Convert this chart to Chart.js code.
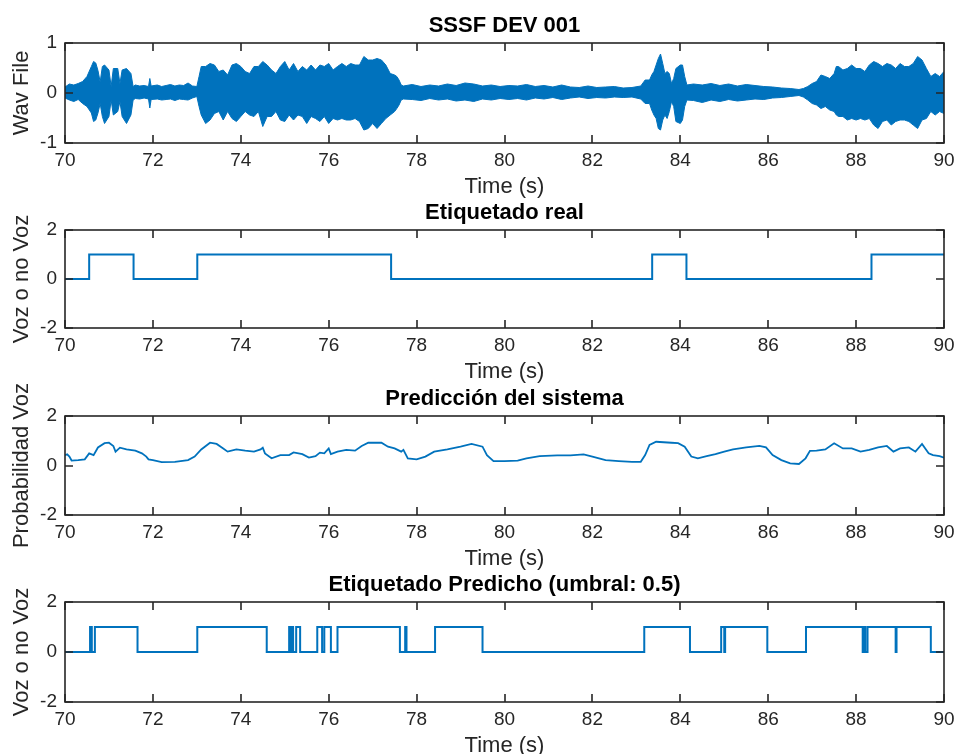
<!DOCTYPE html>
<html>
<head>
<meta charset="utf-8">
<title>SSSF DEV 001</title>
<script src="https://cdn.jsdelivr.net/npm/chart.js@4.4.1/dist/chart.umd.min.js"></script>
<style>
  html, body { margin: 0; padding: 0; background: #fff; overflow: hidden; }
  body { width: 957px; height: 754px; position: relative; }
  canvas { position: absolute; left: 0; }
</style>
</head>
<body>
<canvas id="wavChart" width="957" height="215" style="top:0px"></canvas>
<canvas id="realChart" width="957" height="215" style="top:187px"></canvas>
<canvas id="probChart" width="957" height="215" style="top:373px"></canvas>
<canvas id="predChart" width="957" height="215" style="top:559px"></canvas>
<script>
// Waveform envelope (upper / lower amplitude per time)
const wavT = [70.00, 70.10, 70.20, 70.30, 70.40, 70.50, 70.60, 70.65, 70.70, 70.75, 70.80, 70.85, 70.90, 71.00, 71.05, 71.10, 71.20, 71.25, 71.30, 71.40,
  71.50, 71.55, 71.60, 71.70, 71.80, 71.90, 71.93, 71.96, 72.10, 72.20, 72.30, 72.40, 72.50, 72.60, 72.70, 72.80, 72.90, 73.00, 73.05, 73.10,
  73.20, 73.30, 73.40, 73.50, 73.60, 73.70, 73.80, 73.90, 74.00, 74.10, 74.20, 74.30, 74.40, 74.50, 74.60, 74.70, 74.80, 74.90, 75.00, 75.10,
  75.20, 75.30, 75.40, 75.50, 75.60, 75.70, 75.80, 75.90, 76.00, 76.10, 76.20, 76.30, 76.40, 76.50, 76.60, 76.70, 76.80, 76.90, 77.00, 77.10,
  77.20, 77.30, 77.40, 77.50, 77.55, 77.60, 77.65, 77.70, 77.90, 78.10, 78.30, 78.50, 78.70, 78.90, 79.10, 79.30, 79.50, 79.70, 79.90, 80.10,
  80.30, 80.50, 80.70, 80.90, 81.10, 81.30, 81.50, 81.70, 81.90, 82.10, 82.30, 82.50, 82.70, 82.90, 83.10, 83.20, 83.30, 83.35, 83.40, 83.45,
  83.50, 83.55, 83.60, 83.65, 83.70, 83.75, 83.80, 83.85, 83.90, 84.00, 84.05, 84.10, 84.15, 84.30, 84.50, 84.70, 84.90, 85.10, 85.30, 85.50,
  85.70, 85.90, 86.10, 86.30, 86.50, 86.70, 86.80, 86.90, 87.00, 87.10, 87.20, 87.30, 87.40, 87.50, 87.55, 87.60, 87.70, 87.80, 87.90, 88.00,
  88.10, 88.20, 88.30, 88.40, 88.50, 88.60, 88.70, 88.80, 88.90, 89.00, 89.10, 89.20, 89.30, 89.40, 89.50, 89.60, 89.70, 89.80, 89.90, 90.00];
const wavHi = [0.12, 0.18, 0.16, 0.19, 0.23, 0.33, 0.53, 0.63, 0.60, 0.45, 0.22, 0.53, 0.56, 0.46, 0.13, 0.49, 0.49, 0.19, 0.46, 0.49,
  0.39, 0.13, 0.16, 0.14, 0.15, 0.13, 0.29, 0.14, 0.16, 0.13, 0.15, 0.17, 0.14, 0.16, 0.15, 0.20, 0.14, 0.13, 0.33, 0.53,
  0.53, 0.59, 0.56, 0.43, 0.46, 0.36, 0.56, 0.59, 0.53, 0.43, 0.39, 0.53, 0.53, 0.63, 0.56, 0.46, 0.39, 0.53, 0.63, 0.46,
  0.59, 0.43, 0.53, 0.46, 0.56, 0.46, 0.56, 0.53, 0.59, 0.46, 0.53, 0.59, 0.53, 0.59, 0.56, 0.56, 0.73, 0.66, 0.66, 0.69,
  0.66, 0.56, 0.39, 0.36, 0.33, 0.26, 0.16, 0.14, 0.17, 0.13, 0.16, 0.14, 0.18, 0.15, 0.20, 0.18, 0.14, 0.16, 0.13, 0.15,
  0.14, 0.17, 0.13, 0.15, 0.12, 0.16, 0.12, 0.11, 0.14, 0.11, 0.12, 0.13, 0.10, 0.11, 0.14, 0.26, 0.26, 0.36, 0.43, 0.56,
  0.69, 0.78, 0.59, 0.39, 0.43, 0.39, 0.19, 0.29, 0.49, 0.56, 0.56, 0.33, 0.16, 0.18, 0.16, 0.19, 0.15, 0.18, 0.14, 0.17,
  0.15, 0.13, 0.12, 0.10, 0.09, 0.07, 0.09, 0.13, 0.19, 0.23, 0.36, 0.33, 0.29, 0.39, 0.53, 0.53, 0.46, 0.49, 0.56, 0.49,
  0.49, 0.43, 0.56, 0.63, 0.59, 0.53, 0.59, 0.56, 0.49, 0.59, 0.53, 0.53, 0.59, 0.73, 0.66, 0.49, 0.33, 0.39, 0.33, 0.43];
const wavLo = [-0.10, -0.14, -0.17, -0.13, -0.21, -0.27, -0.40, -0.57, -0.54, -0.40, -0.21, -0.47, -0.61, -0.47, -0.14, -0.44, -0.37, -0.17, -0.47, -0.61,
  -0.44, -0.14, -0.11, -0.12, -0.10, -0.12, -0.30, -0.13, -0.12, -0.14, -0.13, -0.12, -0.15, -0.12, -0.13, -0.14, -0.10, -0.07, -0.27, -0.44,
  -0.61, -0.54, -0.41, -0.37, -0.54, -0.37, -0.51, -0.57, -0.47, -0.37, -0.44, -0.47, -0.37, -0.67, -0.47, -0.47, -0.37, -0.54, -0.57, -0.44,
  -0.54, -0.44, -0.47, -0.61, -0.47, -0.51, -0.57, -0.47, -0.61, -0.51, -0.54, -0.51, -0.54, -0.54, -0.51, -0.57, -0.74, -0.71, -0.61, -0.71,
  -0.61, -0.51, -0.44, -0.37, -0.31, -0.24, -0.14, -0.12, -0.13, -0.15, -0.11, -0.14, -0.12, -0.16, -0.14, -0.17, -0.12, -0.14, -0.11, -0.13,
  -0.11, -0.14, -0.10, -0.12, -0.09, -0.13, -0.10, -0.08, -0.11, -0.09, -0.10, -0.08, -0.09, -0.08, -0.12, -0.21, -0.21, -0.34, -0.44, -0.51,
  -0.71, -0.74, -0.54, -0.44, -0.51, -0.37, -0.17, -0.27, -0.57, -0.61, -0.54, -0.27, -0.14, -0.15, -0.19, -0.14, -0.17, -0.13, -0.16, -0.14,
  -0.12, -0.13, -0.10, -0.09, -0.07, -0.05, -0.08, -0.14, -0.21, -0.24, -0.31, -0.27, -0.34, -0.37, -0.44, -0.47, -0.47, -0.54, -0.51, -0.54,
  -0.51, -0.54, -0.51, -0.64, -0.71, -0.57, -0.54, -0.64, -0.57, -0.54, -0.54, -0.57, -0.64, -0.71, -0.54, -0.51, -0.37, -0.44, -0.37, -0.41];

// Ground-truth voice labels (value starts at the given time)
const realT = [70, 70.55, 71.56, 73.01, 77.42, 83.36, 84.14, 88.35, 90];
const realV = [0, 1, 0, 1, 0, 1, 0, 1, 1];

// System output probability
const probT = [70.00, 70.05, 70.10, 70.15, 70.30, 70.45, 70.55, 70.65, 70.75, 70.90, 71.00, 71.10, 71.15, 71.25, 71.40, 71.60, 71.75, 71.85, 71.90, 72.00,
  72.20, 72.50, 72.80, 72.95, 73.10, 73.30, 73.45, 73.60, 73.70, 73.90, 74.10, 74.30, 74.45, 74.50, 74.55, 74.70, 74.90, 75.10, 75.20, 75.40,
  75.55, 75.70, 75.80, 75.90, 76.00, 76.05, 76.20, 76.40, 76.60, 76.75, 76.90, 77.20, 77.35, 77.50, 77.65, 77.70, 77.80, 78.00, 78.20, 78.40,
  78.70, 79.00, 79.25, 79.50, 79.60, 79.75, 80.00, 80.30, 80.50, 80.80, 81.20, 81.50, 81.80, 82.00, 82.30, 82.60, 82.90, 83.10, 83.20, 83.30,
  83.45, 83.80, 83.95, 84.10, 84.25, 84.40, 84.60, 84.80, 85.00, 85.20, 85.50, 85.80, 85.95, 86.10, 86.30, 86.50, 86.70, 86.85, 86.95, 87.10,
  87.30, 87.50, 87.70, 87.90, 88.10, 88.30, 88.50, 88.70, 88.85, 89.00, 89.20, 89.35, 89.50, 89.65, 89.75, 89.90, 90.00];
const probV = [0.42, 0.45, 0.36, 0.20, 0.22, 0.25, 0.49, 0.42, 0.73, 0.90, 0.92, 0.79, 0.56, 0.72, 0.65, 0.60, 0.49, 0.36, 0.25, 0.22,
  0.14, 0.15, 0.22, 0.36, 0.65, 0.92, 0.87, 0.69, 0.56, 0.65, 0.60, 0.56, 0.65, 0.72, 0.49, 0.29, 0.42, 0.42, 0.53, 0.46,
  0.32, 0.38, 0.52, 0.49, 0.69, 0.46, 0.56, 0.63, 0.60, 0.79, 0.92, 0.92, 0.76, 0.69, 0.56, 0.63, 0.29, 0.25, 0.36, 0.56,
  0.65, 0.76, 0.87, 0.76, 0.42, 0.18, 0.18, 0.20, 0.29, 0.38, 0.41, 0.41, 0.45, 0.36, 0.22, 0.18, 0.15, 0.15, 0.42, 0.83,
  0.96, 0.92, 0.90, 0.76, 0.36, 0.29, 0.38, 0.46, 0.56, 0.65, 0.73, 0.79, 0.73, 0.42, 0.22, 0.09, 0.06, 0.29, 0.59, 0.60,
  0.65, 0.90, 0.69, 0.69, 0.56, 0.63, 0.73, 0.79, 0.56, 0.69, 0.73, 0.56, 0.87, 0.49, 0.42, 0.38, 0.32];

// Thresholded prediction (umbral 0.5)
const predT = [70, 70.57, 70.61, 70.68, 71.65, 73.01, 74.59, 75.10, 75.13, 75.16, 75.19, 75.26, 75.35, 75.74, 75.85, 75.90, 76.05, 76.20,
  77.62, 77.74, 77.77, 78.42, 79.50, 83.18, 84.22, 84.93, 85.00, 85.02, 85.98, 86.86, 88.15, 88.18, 88.21, 88.26, 88.90, 88.92, 89.70, 90];
const predV = [0, 1, 0, 1, 0, 1, 0, 1, 0, 1, 0, 1, 0, 1, 0, 1, 0, 1,
  0, 1, 0, 1, 0, 1, 0, 1, 0, 1, 0, 1, 0, 1, 0, 1, 0, 1, 0, 0];

const xTicks = { min: 70, max: 90, step: 2 };

const FONT = '"Liberation Sans", Arial, Helvetica, sans-serif';
const LINE = '#0072BD';
const AXIS = '#262626';

const toPoints = (xs, ys) => xs.map((x, i) => ({ x, y: ys[i] }));

// box, inward tick marks, title and y label
const boxPlugin = {
  id: 'boxAxes',
  afterDraw(chart, args, opts) {
    const { ctx, chartArea: a, scales } = chart;
    const len = 8;
    ctx.save();
    ctx.strokeStyle = AXIS;
    ctx.lineWidth = 1.6;
    ctx.beginPath();
    scales.x.ticks.forEach(t => {
      const px = Math.round(scales.x.getPixelForValue(t.value));
      ctx.moveTo(px, a.bottom); ctx.lineTo(px, a.bottom - len);
      ctx.moveTo(px, a.top); ctx.lineTo(px, a.top + len);
    });
    scales.y.ticks.forEach(t => {
      const py = Math.round(scales.y.getPixelForValue(t.value));
      ctx.moveTo(a.left, py); ctx.lineTo(a.left + len, py);
      ctx.moveTo(a.right, py); ctx.lineTo(a.right - len, py);
    });
    ctx.stroke();
    ctx.strokeRect(a.left, a.top, a.right - a.left, a.bottom - a.top);

    ctx.fillStyle = '#000';
    ctx.font = 'bold 22px ' + FONT;
    ctx.textAlign = 'center';
    ctx.textBaseline = 'alphabetic';
    ctx.fillText(opts.title, (a.left + a.right) / 2, a.top - 11);

    ctx.translate(28, (a.top + a.bottom) / 2);
    ctx.rotate(-Math.PI / 2);
    ctx.fillStyle = AXIS;
    ctx.font = '22px ' + FONT;
    ctx.fillText(opts.ylabel, 0, 0);
    ctx.restore();
  }
};

function makeChart(id, datasets, cfg) {
  return new Chart(document.getElementById(id), {
    type: 'line',
    data: { datasets },
    plugins: [boxPlugin],
    options: {
      responsive: false,
      animation: false,
      devicePixelRatio: 1,
      layout: { padding: { top: 43, left: 0, right: 13, bottom: 112 - cfg.plotH } },
      plugins: {
        legend: { display: false },
        tooltip: { enabled: false },
        boxAxes: { title: cfg.title, ylabel: cfg.ylabel }
      },
      elements: { point: { radius: 0 }, line: { tension: 0 } },
      scales: {
        x: {
          type: 'linear',
          min: xTicks.min, max: xTicks.max,
          // label gap comes from the (hidden) tick length so the side padding stays small
          ticks: { stepSize: xTicks.step, color: AXIS, font: { family: FONT, size: 19 }, padding: 0, maxRotation: 0, autoSkip: false },
          grid: { display: false, drawTicks: true, tickLength: 6, tickColor: 'rgba(0,0,0,0)' },
          border: { display: false },
          title: { display: true, text: 'Time (s)', color: AXIS, font: { family: FONT, size: 22 }, padding: { top: 0, bottom: 3 } },
          afterFit: s => { s.height = 60; }
        },
        y: {
          type: 'linear',
          min: cfg.yMin, max: cfg.yMax,
          ticks: { stepSize: cfg.yStep, color: AXIS, font: { family: FONT, size: 19 }, padding: 8 },
          grid: { display: false, drawTicks: false },
          border: { display: false },
          afterFit: s => { s.width = 65; }
        }
      }
    }
  });
}

makeChart('wavChart', [
  { data: toPoints(wavT, wavHi), borderColor: LINE, backgroundColor: LINE, borderWidth: 1, fill: '+1' },
  { data: toPoints(wavT, wavLo), borderColor: LINE, backgroundColor: LINE, borderWidth: 1, fill: false }
], { title: 'SSSF DEV 001', ylabel: 'Wav File', yMin: -1, yMax: 1, yStep: 1, plotH: 100 });

makeChart('realChart', [
  { data: toPoints(realT, realV), borderColor: LINE, borderWidth: 2, stepped: 'before', fill: false }
], { title: 'Etiquetado real', ylabel: 'Voz o no Voz', yMin: -2, yMax: 2, yStep: 2, plotH: 98 });

makeChart('probChart', [
  { data: toPoints(probT, probV), borderColor: LINE, borderWidth: 1.8, fill: false }
], { title: 'Predicción del sistema', ylabel: 'Probabilidad Voz', yMin: -2, yMax: 2, yStep: 2, plotH: 99 });

makeChart('predChart', [
  { data: toPoints(predT, predV), borderColor: LINE, borderWidth: 2, stepped: 'before', fill: false }
], { title: 'Etiquetado Predicho (umbral: 0.5)', ylabel: 'Voz o no Voz', yMin: -2, yMax: 2, yStep: 2, plotH: 100 });
</script>
</body>
</html>
